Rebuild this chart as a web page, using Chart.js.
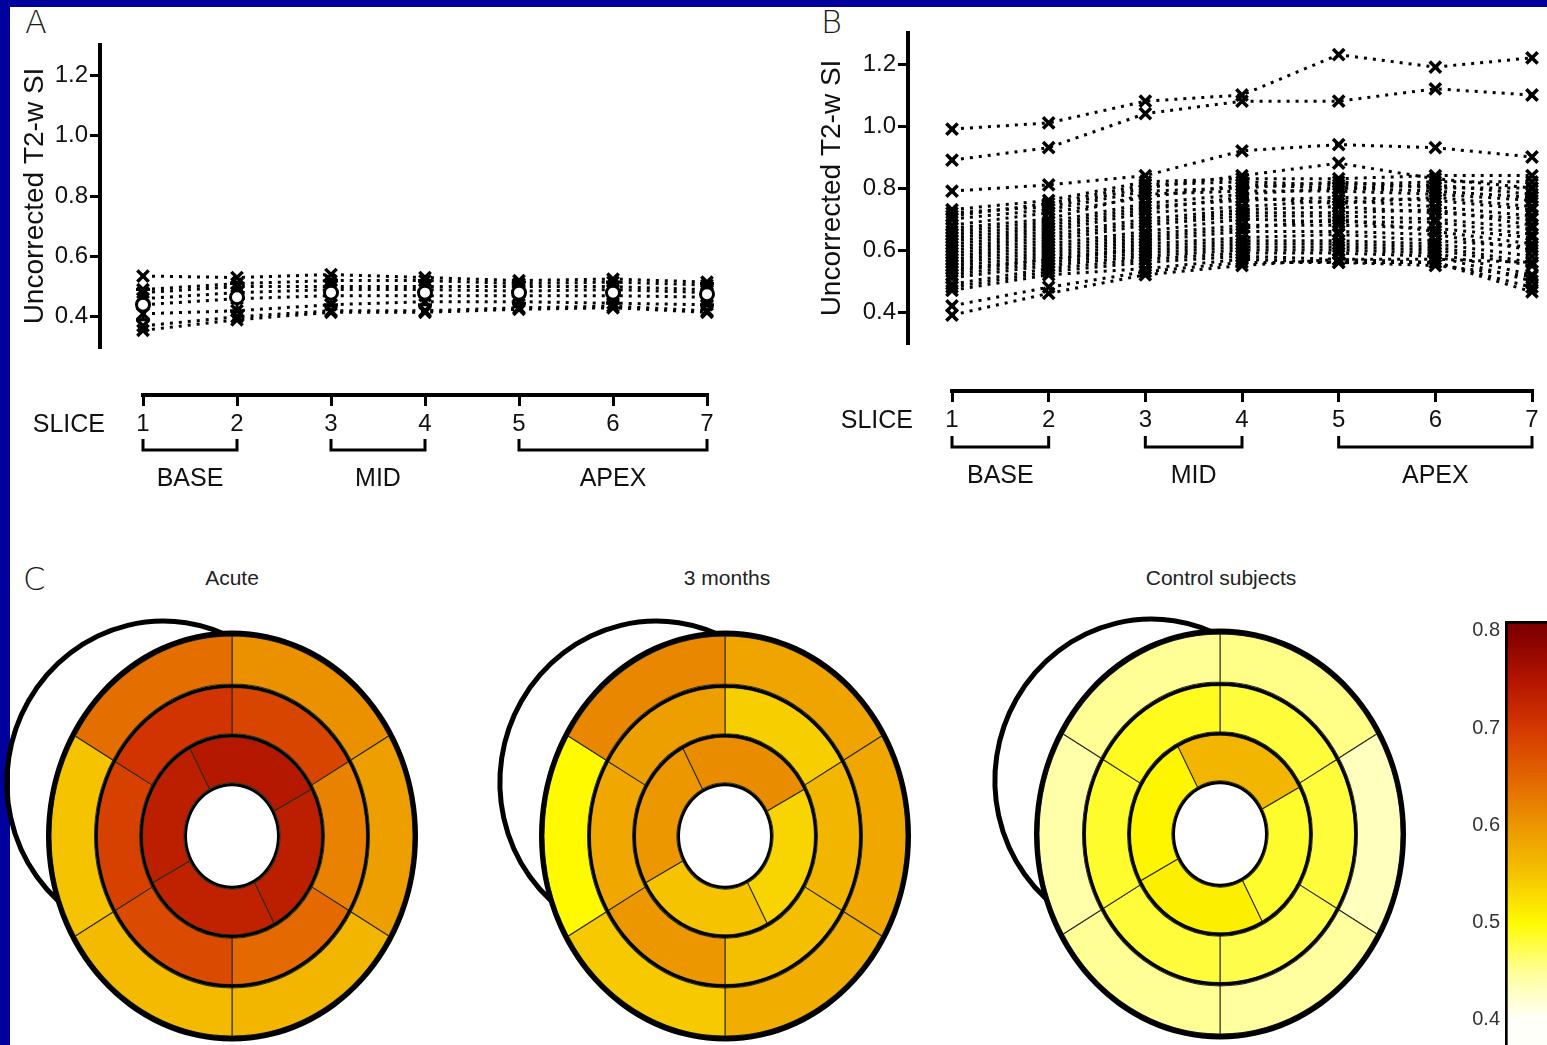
<!DOCTYPE html>
<html>
<head>
<meta charset="utf-8">
<script src="https://cdn.jsdelivr.net/npm/chart.js@4.4.1/dist/chart.umd.min.js"></script>
<style>
  html, body { margin: 0; padding: 0; }
  body { width: 1547px; height: 1045px; overflow: hidden; background: #00009c; position: relative; }
  #sheet { position: absolute; left: 10px; top: 7px; right: 0; bottom: 0; background: #fff; }
  canvas { position: absolute; }
  .letter { position: absolute; font: 200 32px 'DejaVu Sans', sans-serif; color: #1a1a1a; line-height: 1; }
  .ctitle { position: absolute; font: 21px 'Liberation Sans', Arial, sans-serif; color: #222;
            transform: translateX(-50%); white-space: nowrap; line-height: 1; }
</style>
</head>
<body>
<div id="sheet"></div>
<div class="letter" style="left:25px; top:6px;">A</div>
<div class="letter" style="left:821px; top:6px;">B</div>
<div class="letter" style="left:23px; top:563px;">C</div>

<canvas id="panelA" width="740" height="500" style="left:0; top:0;"></canvas>
<canvas id="panelB" width="780" height="500" style="left:780px; top:0;"></canvas>

<div class="ctitle" style="left:232px; top:567px;">Acute</div>
<div class="ctitle" style="left:727px; top:567px;">3 months</div>
<div class="ctitle" style="left:1221px; top:567px;">Control subjects</div>

<canvas id="eyeAcute" width="480" height="460" style="left:-8px; top:606px;"></canvas>
<canvas id="eye3m" width="480" height="460" style="left:485px; top:606px;"></canvas>
<canvas id="eyeCtrl" width="480" height="460" style="left:980px; top:604px;"></canvas>
<canvas id="colorbar" width="160" height="476" style="left:1440px; top:590px;"></canvas>

<script>
// ---- data ----
const sliceLabels = ['1', '2', '3', '4', '5', '6', '7'];
const yTicks = [0.4, 0.6, 0.8, 1.0, 1.2];
const groupNames = ['BASE', 'MID', 'APEX'];
const groupFrom = [0, 2, 4];
const groupTo = [1, 3, 6];

// panel A: control subjects, per slice
const panelA = [
  [0.535, 0.53, 0.54, 0.53, 0.52, 0.525, 0.515],
  [0.49, 0.51, 0.52, 0.52, 0.51, 0.515, 0.505],
  [0.48, 0.50, 0.50, 0.50, 0.50, 0.50, 0.49],
  [0.46, 0.48, 0.49, 0.49, 0.485, 0.49, 0.48],
  [0.44, 0.46, 0.47, 0.47, 0.47, 0.47, 0.465],
  [0.41, 0.42, 0.44, 0.45, 0.45, 0.445, 0.44],
  [0.37, 0.40, 0.42, 0.42, 0.43, 0.435, 0.42],
  [0.355, 0.39, 0.415, 0.415, 0.425, 0.43, 0.415]
];
const meanA = [0.44, 0.465, 0.48, 0.48, 0.48, 0.48, 0.475];
const sdA = [0.05, 0.045, 0.04, 0.04, 0.035, 0.035, 0.035];

// panel B: patients, per slice
const panelB = [
  [0.99, 1.01, 1.08, 1.10, 1.23, 1.19, 1.22],
  [0.89, 0.93, 1.04, 1.08, 1.08, 1.12, 1.10],
  [0.79, 0.81, 0.84, 0.92, 0.94, 0.93, 0.90],
  [0.72, 0.74, 0.80, 0.84, 0.88, 0.83, 0.80],
  [0.73, 0.76, 0.82, 0.83, 0.83, 0.84, 0.84],
  [0.71, 0.75, 0.81, 0.82, 0.81, 0.82, 0.82],
  [0.70, 0.73, 0.79, 0.80, 0.82, 0.80, 0.80],
  [0.68, 0.72, 0.77, 0.81, 0.80, 0.81, 0.78],
  [0.67, 0.70, 0.78, 0.79, 0.79, 0.78, 0.76],
  [0.66, 0.69, 0.75, 0.78, 0.80, 0.79, 0.77],
  [0.65, 0.68, 0.74, 0.76, 0.77, 0.76, 0.73],
  [0.64, 0.67, 0.73, 0.77, 0.75, 0.77, 0.74],
  [0.63, 0.66, 0.72, 0.74, 0.76, 0.74, 0.71],
  [0.62, 0.65, 0.70, 0.73, 0.74, 0.72, 0.70],
  [0.61, 0.64, 0.69, 0.72, 0.72, 0.73, 0.68],
  [0.60, 0.63, 0.68, 0.71, 0.71, 0.70, 0.67],
  [0.59, 0.62, 0.66, 0.70, 0.69, 0.69, 0.65],
  [0.58, 0.61, 0.65, 0.68, 0.68, 0.67, 0.64],
  [0.57, 0.60, 0.64, 0.67, 0.70, 0.66, 0.62],
  [0.56, 0.59, 0.63, 0.66, 0.66, 0.65, 0.60],
  [0.55, 0.58, 0.62, 0.64, 0.65, 0.63, 0.61],
  [0.54, 0.57, 0.61, 0.63, 0.63, 0.62, 0.58],
  [0.53, 0.57, 0.60, 0.62, 0.62, 0.61, 0.56],
  [0.52, 0.56, 0.59, 0.61, 0.61, 0.60, 0.55],
  [0.51, 0.55, 0.58, 0.60, 0.60, 0.59, 0.52],
  [0.49, 0.54, 0.57, 0.59, 0.59, 0.58, 0.50],
  [0.48, 0.53, 0.56, 0.58, 0.57, 0.56, 0.48],
  [0.47, 0.52, 0.54, 0.57, 0.56, 0.56, 0.465],
  [0.42, 0.48, 0.53, 0.56, 0.56, 0.55, 0.515],
  [0.39, 0.46, 0.52, 0.55, 0.57, 0.57, 0.56]
];

// panel C: segment values (basal/mid clockwise from 12 o'clock, apical: top, right, bottom, left)
const acuteBasal = [0.605, 0.59, 0.565, 0.56, 0.55, 0.64];
const acuteMid = [0.685, 0.62, 0.645, 0.68, 0.69, 0.705];
const acuteApical = [0.745, 0.735, 0.73, 0.735];
const months3Basal = [0.585, 0.58, 0.575, 0.545, 0.50, 0.615];
const months3Mid = [0.54, 0.565, 0.555, 0.60, 0.58, 0.59];
const months3Apical = [0.61, 0.535, 0.55, 0.60];
const controlBasal = [0.455, 0.43, 0.445, 0.45, 0.44, 0.45];
const controlMid = [0.48, 0.48, 0.475, 0.48, 0.485, 0.49];
const controlApical = [0.565, 0.485, 0.51, 0.505];
const colorbarTicks = [0.4, 0.5, 0.6, 0.7, 0.8];

// ---- colour scale ----
const cmapValues = [0.40, 0.45, 0.50, 0.55, 0.60, 0.65, 0.70, 0.75, 0.80];
const cmapColors = [[255,255,250],[255,255,150],[255,250,0],[245,195,0],[236,150,0],[226,100,0],[212,56,0],[178,20,0],[128,0,0]];

function valueColor(v) {
  const n = cmapValues.length;
  if (v <= cmapValues[0]) return `rgb(${cmapColors[0].join(',')})`;
  if (v >= cmapValues[n - 1]) return `rgb(${cmapColors[n - 1].join(',')})`;
  let i = 0;
  while (v > cmapValues[i + 1]) i++;
  const t = (v - cmapValues[i]) / (cmapValues[i + 1] - cmapValues[i]);
  const c = cmapColors[i].map((a, k) => Math.round(a + (cmapColors[i + 1][k] - a) * t));
  return `rgb(${c.join(',')})`;
}

const SANS = "'Liberation Sans', Arial, sans-serif";

// ---- panels A and B ----
const sliceBrackets = {
  id: 'sliceBrackets',
  afterDraw(chart, args, o) {
    const {ctx} = chart;
    const x = chart.scales.x;
    const base = x.top;
    ctx.save();
    ctx.strokeStyle = '#000';
    ctx.lineWidth = 3;
    ctx.fillStyle = '#111';
    ctx.font = `25px ${SANS}`;
    ctx.textBaseline = 'middle';
    ctx.textAlign = 'center';
    groupNames.forEach((name, i) => {
      const x1 = x.getPixelForValue(groupFrom[i]);
      const x2 = x.getPixelForValue(groupTo[i]);
      const yb = base + o.bracket;
      ctx.beginPath();
      ctx.moveTo(x1, yb - 11);
      ctx.lineTo(x1, yb);
      ctx.lineTo(x2, yb);
      ctx.lineTo(x2, yb - 11);
      ctx.stroke();
      ctx.fillText(name, (x1 + x2) / 2, base + o.label);
    });
    ctx.textAlign = 'right';
    ctx.fillText('SLICE', chart.scales.y.right + 5, base + o.slice);
    ctx.restore();
  }
};

const errorBars = {
  id: 'errorBars',
  beforeDatasetsDraw(chart, args, o) {
    if (!o.mean) return;
    const {ctx} = chart;
    const x = chart.scales.x, y = chart.scales.y;
    ctx.save();
    ctx.strokeStyle = '#000';
    ctx.lineWidth = 3;
    o.mean.forEach((m, i) => {
      const px = x.getPixelForValue(i);
      const top = y.getPixelForValue(m + o.sd[i]);
      const bot = y.getPixelForValue(m - o.sd[i]);
      ctx.beginPath();
      ctx.moveTo(px, top); ctx.lineTo(px, bot);
      ctx.moveTo(px - 7, top); ctx.lineTo(px + 7, top);
      ctx.moveTo(px - 7, bot); ctx.lineTo(px + 7, bot);
      ctx.stroke();
    });
    ctx.restore();
  }
};

function linePanel(id, subjects, geo, extra) {
  const datasets = subjects.map(vals => ({
    data: vals,
    borderColor: '#000',
    borderWidth: 3,
    borderDash: [3, 6],
    pointStyle: 'crossRot',
    pointRadius: 8,
    pointBorderWidth: 3.5,
    pointBorderColor: '#000',
    pointBackgroundColor: '#000',
    fill: false,
    tension: 0,
    clip: false
  }));
  if (extra) datasets.push(extra);

  const gapAxis = (axis, size) => ({
    type: 'linear', axis, position: axis === 'x' ? 'bottom' : 'left', weight: 0, display: true,
    border: {display: false}, grid: {display: false, drawTicks: false}, ticks: {display: false},
    afterFit(s) { if (axis === 'x') s.height = size; else s.width = size; }
  });

  return new Chart(document.getElementById(id), {
    type: 'line',
    data: {labels: sliceLabels, datasets},
    options: {
      responsive: false,
      animation: false,
      events: [],
      devicePixelRatio: 1,
      layout: {padding: {left: geo.padLeft, right: geo.padRight, top: geo.padTop, bottom: geo.padBottom}},
      plugins: {
        legend: {display: false},
        tooltip: {enabled: false},
        sliceBrackets: {bracket: geo.bracket, label: geo.label, slice: geo.slice},
        errorBars: geo.errors || {}
      },
      scales: {
        x: {
          type: 'category', position: 'bottom', weight: 1,
          afterFit(s) { s.height = 50; },
          border: {display: true, color: '#000', width: 4},
          grid: {drawOnChartArea: false, drawTicks: true, tickLength: 11, color: '#000', lineWidth: 3},
          ticks: {color: '#111', font: {family: SANS, size: 24}, padding: 4, maxRotation: 0, autoSkip: false}
        },
        xGap: gapAxis('x', 48),
        y: {
          type: 'linear', position: 'left', weight: 1, min: 0.3, max: 1.3,
          afterBuildTicks(s) { s.ticks = yTicks.map(v => ({value: v})); },
          afterFit(s) { s.width = geo.yWidth; },
          border: {display: true, color: '#000', width: 4},
          grid: {drawOnChartArea: false, drawTicks: true, tickLength: 10, color: '#000', lineWidth: 3},
          ticks: {color: '#111', font: {family: SANS, size: 24}, padding: 2, callback: v => v.toFixed(1)},
          title: {display: true, text: 'Uncorrected T2-w SI', color: '#111',
                  font: {family: SANS, size: 28}, padding: {top: geo.titlePad, bottom: 0}}
        },
        yGap: gapAxis('y', geo.gap)
      }
    },
    plugins: [sliceBrackets, errorBars]
  });
}

linePanel('panelA', panelA, {
  padLeft: 10, padRight: 33, padTop: 45, padBottom: 55, yWidth: 90, gap: 43, titlePad: 8,
  bracket: 55, label: 84, slice: 30,
  errors: {mean: meanA, sd: sdA}
}, {
  data: meanA, showLine: false, order: -1, pointStyle: 'circle', pointRadius: 6.5,
  pointBorderWidth: 3, pointBorderColor: '#000', pointBackgroundColor: '#fff', clip: false
});

linePanel('panelB', panelB, {
  padLeft: 30, padRight: 28, padTop: 33, padBottom: 59, yWidth: 98, gap: 44, titlePad: 5,
  bracket: 56, label: 85, slice: 30
});

// ---- panel C: bull's-eye plots ----
const ellipseView = {
  id: 'ellipseView',
  beforeDatasetsDraw(chart, args, o) {
    const {ctx, chartArea} = chart;
    const cx = (chartArea.left + chartArea.right) / 2;
    const cy = (chartArea.top + chartArea.bottom) / 2;
    ctx.save();
    ctx.beginPath();
    ctx.ellipse(cx - 70, cy - 55, 155, 160, 0.15, 0, Math.PI * 2);
    ctx.lineWidth = 5;
    ctx.strokeStyle = '#000';
    ctx.stroke();
    ctx.translate(cx, cy);
    ctx.scale(1, o.stretch);
    ctx.translate(-cx, -cy);
  },
  afterDatasetsDraw(chart) { chart.ctx.restore(); }
};

function bullseye(id, basal, mid, apical) {
  const black = w => ({data: [1], backgroundColor: '#000', borderWidth: 0, weight: w});
  const ring = (vals, w, rot) => ({
    data: vals.map(() => 1), backgroundColor: vals.map(valueColor),
    borderColor: '#2b2b1a', borderWidth: 1, weight: w, rotation: rot
  });
  return new Chart(document.getElementById(id), {
    type: 'doughnut',
    data: {datasets: [black(5), ring(basal, 43.5, 0), black(3), ring(mid, 42, 0), black(3), ring(apical, 41.5, -28), black(3)]},
    options: {
      responsive: false, animation: false, events: [], devicePixelRatio: 1,
      radius: 186, cutout: '24.19%',
      layout: {padding: 40},
      plugins: {legend: {display: false}, tooltip: {enabled: false}, ellipseView: {stretch: 1.105}}
    },
    plugins: [ellipseView]
  });
}

bullseye('eyeAcute', acuteBasal, acuteMid, acuteApical);
bullseye('eye3m', months3Basal, months3Mid, months3Apical);
bullseye('eyeCtrl', controlBasal, controlMid, controlApical);

// ---- colour bar ----
new Chart(document.getElementById('colorbar'), {
  type: 'bar',
  data: {
    labels: ['SI'],
    datasets: [{
      data: [[0.37, 0.81]],
      backgroundColor(ctx) {
        const chart = ctx.chart;
        if (!chart.chartArea) return '#fff';
        const y = chart.scales.y;
        const g = chart.ctx.createLinearGradient(0, y.getPixelForValue(cmapValues[0]), 0, y.getPixelForValue(cmapValues[cmapValues.length - 1]));
        cmapColors.forEach((c, i) => g.addColorStop(i / (cmapColors.length - 1), `rgb(${c.join(',')})`));
        return g;
      },
      borderColor: '#000', borderWidth: 3, borderSkipped: false,
      barPercentage: 1, categoryPercentage: 1
    }]
  },
  options: {
    responsive: false, animation: false, events: [], devicePixelRatio: 1,
    layout: {padding: {top: 31, left: 0, right: 0, bottom: 0}},
    plugins: {legend: {display: false}, tooltip: {enabled: false}},
    scales: {
      x: {display: false},
      y: {
        min: 0.37, max: 0.81,
        afterBuildTicks(s) { s.ticks = colorbarTicks.map(v => ({value: v})); },
        afterFit(s) { s.width = 65; },
        border: {display: false},
        grid: {display: false, drawTicks: false},
        ticks: {color: '#333', font: {family: SANS, size: 20}, padding: 5,
                callback: v => v.toFixed(1)}
      }
    }
  }
});
</script>
</body>
</html>
